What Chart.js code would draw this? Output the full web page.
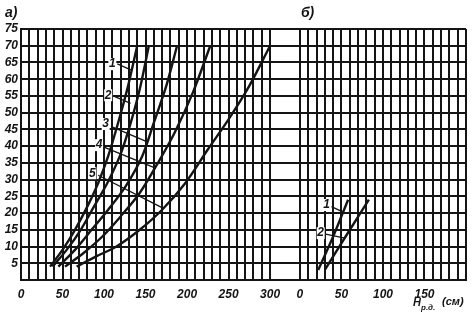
<!DOCTYPE html>
<html>
<head>
<meta charset="utf-8">
<script src="https://cdn.jsdelivr.net/npm/chart.js@4.4.1/dist/chart.umd.min.js"></script>
<style>
  body { margin: 0; background: #fff; }
  #wrap { position: relative; width: 474px; height: 326px; }
</style>
</head>
<body>
<div id="wrap"><canvas id="chart"></canvas></div>
<script>
// both panels share one x scale; panel б starts at B_OFFSET
const B_OFFSET = 336;
const A_MAX = 300;
const B_MAX = 200;
const Y_MAX = 75;

const aTickLabels = [0, 50, 100, 150, 200, 250, 300];
const bTickLabels = [0, 50, 100, 150];
const yTickLabels = [5, 10, 15, 20, 25, 30, 35, 40, 45, 50, 55, 60, 65, 70, 75];

// panel а, curves 1..5 as [H, value]
const curveA1 = [[35,4],[50,9],[65,15],[80,22],[93,29],[105,37],[117,47],[129,58],[140,70]];
const curveA2 = [[38,4],[55,9],[72,15],[88,22],[104,29],[119,37],[131,46],[143,57],[154,70]];
const curveA3 = [[45,4],[65,9],[85,15],[105,21],[126,28],[146,37],[160,47],[175,58],[188,70]];
const curveA4 = [[53,4],[75,8],[98,13],[120,19],[143,26],[165,35],[185,44],[207,56],[228,70]];
const curveA5 = [[67,4],[90,7],[115,10],[143,15],[170,21],[198,29],[225,39],[250,48],[275,58],[300,70]];

// panel б, curves 1..2
const curveB1 = [[22,3],[40,13],[58,24]];
const curveB2 = [[30,3],[55,13],[83,24]];

// curve numbers and their leader lines: [label x, label y, from x, from y, to x, to y]
const leadersA = [
  ['1', 110, 64.5, 116, 64.6, 133, 62.7],
  ['2', 105, 55.2, 111, 55.0, 132, 52.8],
  ['3', 102, 46.6, 109, 45.8, 150, 41.5],
  ['4', 94, 40.3, 100, 39.7, 162, 33.4],
  ['5', 86, 31.9, 93, 31.3, 171, 21.5]
];
const leadersB = [
  ['1', 32, 22.4, 38, 21.9, 52, 20.3],
  ['2', 25, 14.0, 31, 13.7, 54, 12.5]
];

const INK = '#141414';
const FONT = '"Liberation Sans", Arial, sans-serif';

function toPoints(arr, shift) {
  return arr.map(p => ({ x: p[0] + shift, y: p[1] }));
}

function curve(arr, shift) {
  return {
    data: toPoints(arr, shift),
    showLine: true,
    borderColor: INK,
    borderWidth: 2.4,
    pointRadius: 0,
    tension: 0.3
  };
}

function leader(l, shift) {
  return {
    data: [{ x: l[3] + shift, y: l[4] }, { x: l[5] + shift, y: l[6] }],
    showLine: true,
    borderColor: INK,
    borderWidth: 1.3,
    pointRadius: 0,
    tension: 0
  };
}

const datasets = [
  curve(curveA1, 0), curve(curveA2, 0), curve(curveA3, 0), curve(curveA4, 0), curve(curveA5, 0),
  curve(curveB1, B_OFFSET), curve(curveB2, B_OFFSET)
];
leadersA.forEach(l => datasets.push(leader(l, 0)));
leadersB.forEach(l => datasets.push(leader(l, B_OFFSET)));

// vertical grid every 10 in each panel, nothing in the gap
const xGrid = [];
for (let v = 0; v <= A_MAX; v += 10) xGrid.push(v);
for (let v = 0; v <= B_MAX; v += 10) xGrid.push(v + B_OFFSET);

function curveNumber(ctx, text, px, py) {
  ctx.fillStyle = '#fff';
  ctx.fillRect(px - 4, py - 6, 8, 12);
  ctx.fillStyle = INK;
  ctx.fillText(text, px, py);
}

const notes = {
  id: 'notes',
  afterDatasetsDraw(chart) {
    const { ctx, scales: { x, y } } = chart;
    ctx.save();
    ctx.textAlign = 'center';
    ctx.textBaseline = 'middle';
    ctx.font = 'italic bold 12px ' + FONT;
    leadersA.forEach(l => curveNumber(ctx, l[0], x.getPixelForValue(l[1]), y.getPixelForValue(l[2])));
    leadersB.forEach(l => curveNumber(ctx, l[0], x.getPixelForValue(l[1] + B_OFFSET), y.getPixelForValue(l[2])));

    // panel letters
    ctx.fillStyle = INK;
    ctx.textAlign = 'left';
    ctx.font = 'italic bold 14px ' + FONT;
    ctx.fillText('а)', 5, 13);
    ctx.fillText('б)', x.getPixelForValue(B_OFFSET) + 1, 13);

    // axis title H with subscript
    ctx.textBaseline = 'alphabetic';
    ctx.font = 'italic bold 11px ' + FONT;
    ctx.fillText('H', 413, 306);
    ctx.font = 'italic bold 8px ' + FONT;
    ctx.fillText('р.д.', 421, 310);
    ctx.font = 'italic bold 11px ' + FONT;
    ctx.fillText('(см)', 442, 305);
    ctx.restore();
  }
};

new Chart(document.getElementById('chart'), {
  type: 'scatter',
  data: { datasets },
  plugins: [notes],
  options: {
    responsive: true,
    maintainAspectRatio: false,
    animation: false,
    layout: { padding: { top: 29, right: 8, left: 0, bottom: 0 } },
    plugins: { legend: { display: false }, tooltip: { enabled: false } },
    scales: {
      x: {
        type: 'linear',
        min: 0,
        max: B_OFFSET + B_MAX,
        afterBuildTicks: scale => { scale.ticks = xGrid.map(v => ({ value: v })); },
        afterFit: scale => { scale.height = 46; },
        border: { color: INK, width: 2 },
        grid: { color: INK, lineWidth: 2, drawTicks: false },
        ticks: {
          autoSkip: false,
          maxRotation: 0,
          padding: 7,
          color: INK,
          font: { family: FONT, size: 12, style: 'italic', weight: 'bold' },
          callback: v => {
            if (v <= A_MAX) return aTickLabels.includes(v) ? String(v) : '';
            const b = v - B_OFFSET;
            return bTickLabels.includes(b) ? String(b) : '';
          }
        }
      },
      y: {
        min: 0,
        max: Y_MAX,
        afterBuildTicks: scale => {
          scale.ticks = [0].concat(yTickLabels).map(v => ({ value: v }));
        },
        afterFit: scale => { scale.width = 21; },
        border: { color: INK, width: 2 },
        grid: { color: INK, lineWidth: 2, drawTicks: false },
        ticks: {
          autoSkip: false,
          padding: 3,
          color: INK,
          font: { family: FONT, size: 12, style: 'italic', weight: 'bold' },
          callback: v => (yTickLabels.includes(v) ? String(v) : '')
        }
      }
    }
  }
});
</script>
</body>
</html>
